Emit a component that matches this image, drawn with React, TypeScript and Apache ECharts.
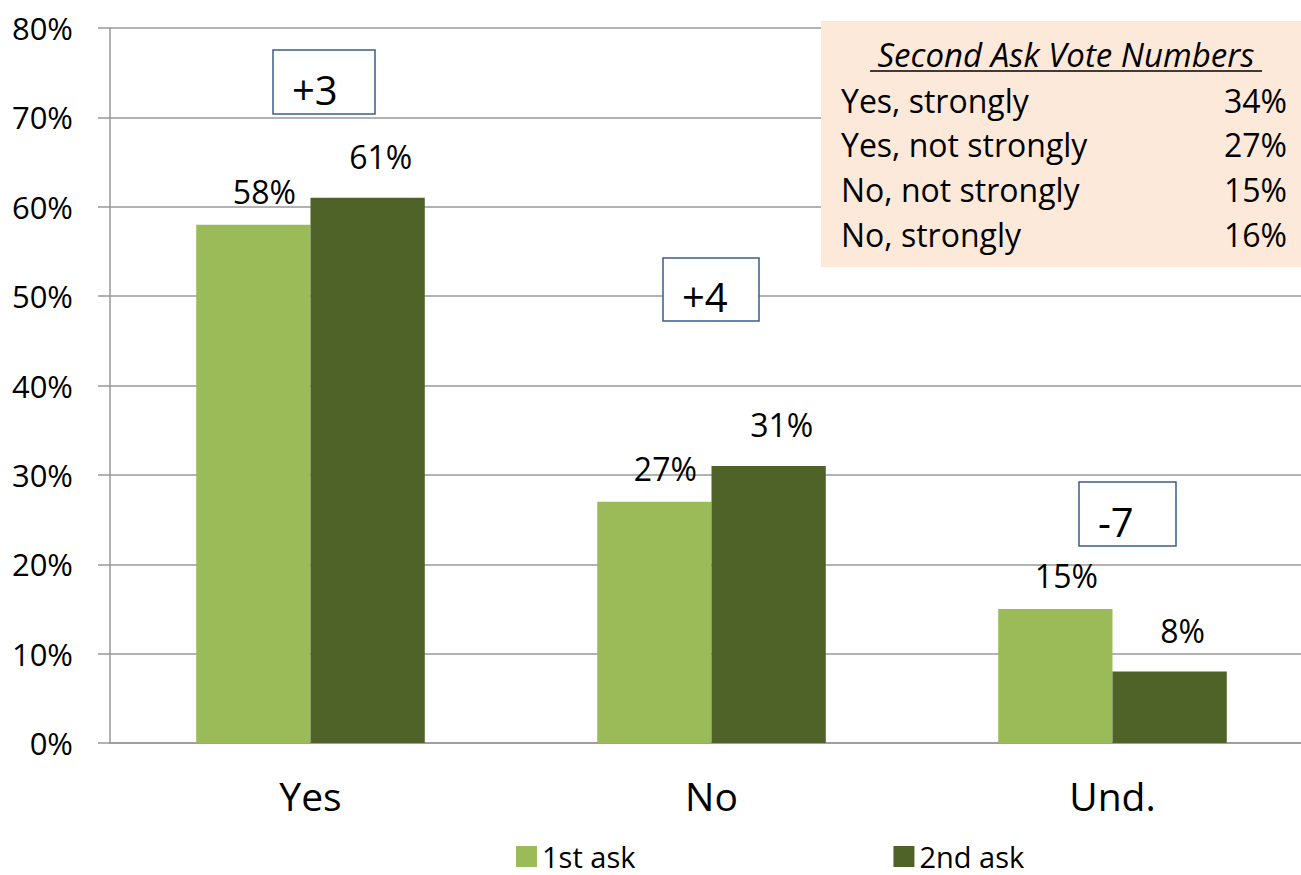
import React, { useEffect, useRef } from "react";
import * as echarts from "echarts";

const categories = ["Yes", "No", "Und."];
const firstAsk = [58, 27, 15];
const secondAsk = [61, 31, 8];
const seriesNames = ["1st ask", "2nd ask"];
const yTicks = [0, 10, 20, 30, 40, 50, 60, 70, 80];
const infoTitle = "Second Ask Vote Numbers";
const infoLabels = ["Yes, strongly", "Yes, not strongly", "No, not strongly", "No, strongly"];
const infoValues = ["34%", "27%", "15%", "16%"];

const FONT = "'Open Sans', 'Noto Sans', sans-serif";
const LIGHT = "#9BBB59";
const DARK = "#4F6228";
const BOX_BORDER = "#385D8A";

export default function App() {
  const ref = useRef<HTMLDivElement>(null);
  useEffect(() => {
    if (!ref.current) return;
    const chart = echarts.init(ref.current, undefined, { renderer: "svg" });
    const diffs = secondAsk.map((v, i) => {
      const d = v - firstAsk[i];
      return (d > 0 ? "+" : "") + d;
    });
    const boxes = [
      { x: 273, y: 50, w: 102, h: 64 },
      { x: 663, y: 258, w: 96, h: 63 },
      { x: 1079, y: 482, w: 97, h: 64 },
    ];
    const graphics: any[] = [];
    boxes.forEach((b, i) => {
      graphics.push({
        type: "rect",
        shape: { x: b.x, y: b.y, width: b.w, height: b.h },
        style: { fill: "#fff", stroke: BOX_BORDER, lineWidth: 1.5 },
        z: 10,
      });
      graphics.push({
        type: "text",
        x: b.x + 19,
        y: b.y + b.h / 2 + 7,
        style: {
          text: diffs[i],
          font: `40px ${FONT}`,
          fill: "#000",
          textAlign: "left",
          textVerticalAlign: "middle",
        },
        z: 11,
      });
    });
    // info box
    graphics.push({
      type: "rect",
      shape: { x: 821, y: 21, width: 490, height: 246 },
      style: { fill: "#FDE9D9" },
      z: 10,
    });
    graphics.push({
      type: "text",
      x: 1066,
      y: 54,
      style: {
        text: infoTitle,
        font: `italic 33px ${FONT}`,
        fill: "#000",
        textAlign: "center",
        textVerticalAlign: "middle",
      },
      z: 11,
    });
    graphics.push({
      type: "line",
      shape: { x1: 870, y1: 71, x2: 1262, y2: 71 },
      style: { stroke: "#000", lineWidth: 1.5 },
      z: 11,
    });
    infoLabels.forEach((lab, i) => {
      const y = 100 + i * 44.7;
      graphics.push({
        type: "text",
        x: 841,
        y,
        style: { text: lab, font: `32px ${FONT}`, fill: "#000", textAlign: "left", textVerticalAlign: "middle" },
        z: 11,
      });
      graphics.push({
        type: "text",
        x: 1287,
        y,
        style: { text: infoValues[i], font: `32px ${FONT}`, fill: "#000", textAlign: "right", textVerticalAlign: "middle" },
        z: 11,
      });
    });

    chart.setOption({
      animation: false,
      textStyle: { fontFamily: FONT },
      grid: { left: 110, top: 28, width: 1203, height: 715, containLabel: false },
      legend: {
        data: seriesNames,
        left: 516,
        top: 842,
        padding: 0,
        itemWidth: 21,
        itemHeight: 21,
        itemGap: 258,
        icon: "rect",
        textStyle: { fontSize: 29, lineHeight: 29, color: "#000", fontFamily: FONT },
      },
      xAxis: {
        type: "category",
        data: categories,
        axisLine: { show: true, lineStyle: { color: "#999", width: 1.5 } },
        axisTick: { show: false },
        axisLabel: { fontSize: 39, color: "#000", margin: 33, fontFamily: FONT },
      },
      yAxis: {
        type: "value",
        min: yTicks[0],
        max: yTicks[yTicks.length - 1],
        interval: 10,
        axisLine: { show: true, lineStyle: { color: "#999", width: 1.5 } },
        axisTick: { show: true, length: 12, lineStyle: { color: "#999", width: 1.5 } },
        splitLine: { show: true, lineStyle: { color: "#999", width: 1.5 } },
        axisLabel: { fontSize: 31, color: "#000", margin: 37, formatter: "{value}%", fontFamily: FONT },
      },
      series: [
        {
          name: seriesNames[0],
          type: "bar",
          data: firstAsk,
          barGap: "0%",
          barCategoryGap: "43%",
          itemStyle: { color: LIGHT },
          label: {
            show: true,
            position: "top",
            distance: 17,
            offset: [11, 0],
            formatter: "{c}%",
            fontSize: 32,
            color: "#000",
            fontFamily: FONT,
          },
        },
        {
          name: seriesNames[1],
          type: "bar",
          data: secondAsk,
          barGap: "0%",
          barCategoryGap: "43%",
          itemStyle: { color: DARK },
          label: {
            show: true,
            position: "top",
            distance: 25,
            offset: [13, 0],
            formatter: "{c}%",
            fontSize: 32,
            color: "#000",
            fontFamily: FONT,
          },
        },
      ],
      graphic: graphics,
    });
    return () => chart.dispose();
  }, []);
  return (
    <div style={{ position: "absolute", left: 0, top: 0, width: 1301, height: 875, overflow: "hidden", background: "#fff" }}>
      <div ref={ref} style={{ width: 1320, height: 875 }} />
    </div>
  );
}
